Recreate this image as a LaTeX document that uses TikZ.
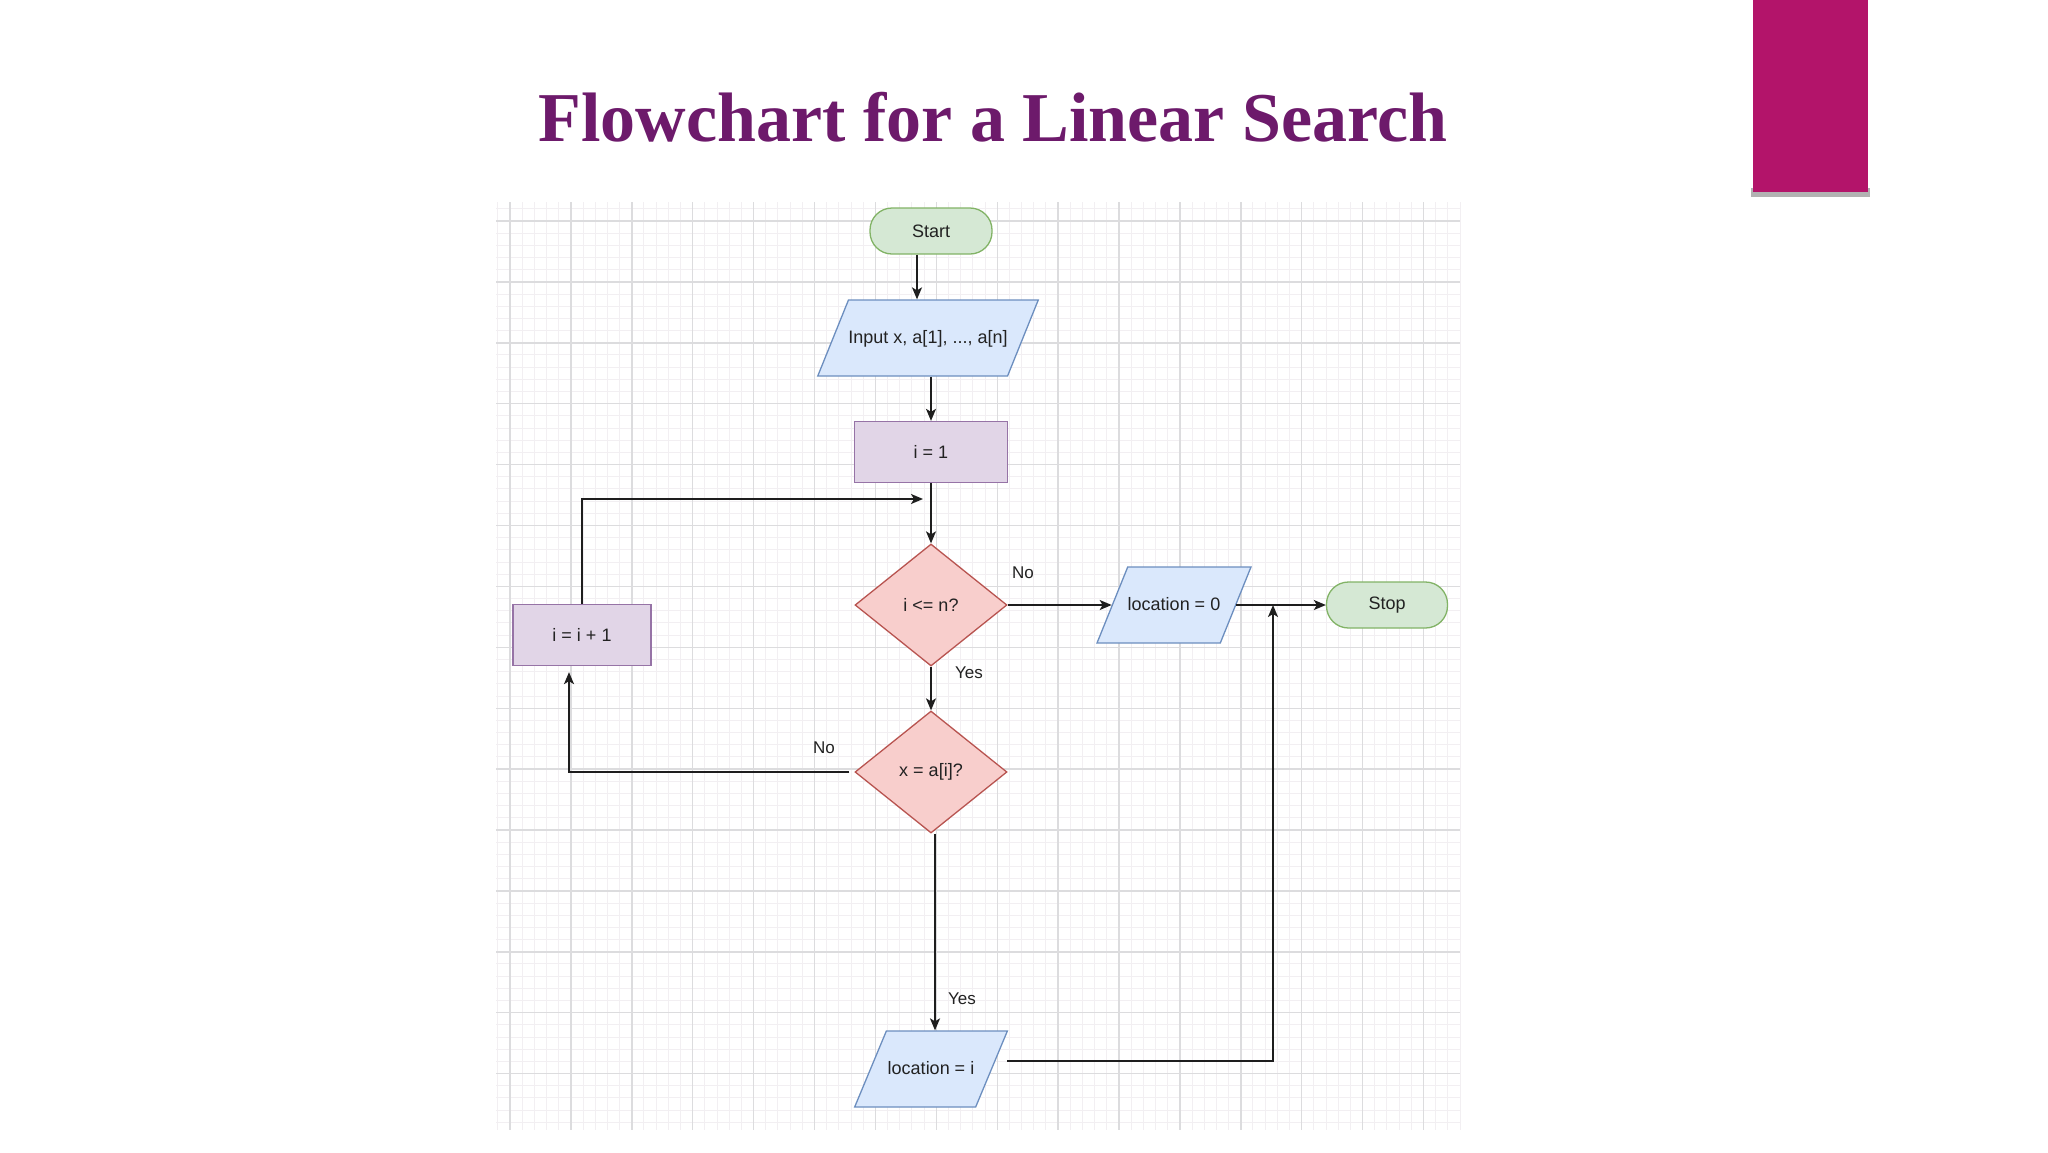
\documentclass[tikz,border=0pt]{standalone}
\usepackage{fontspec}
\setmainfont{Liberation Sans}
\newfontfamily\titlefont{Liberation Serif}
\usetikzlibrary{shapes.geometric,arrows.meta,scopes}
\definecolor{termfill}{HTML}{D5E8D4}
\definecolor{termline}{HTML}{82B366}
\definecolor{iofill}{HTML}{DAE8FC}
\definecolor{ioline}{HTML}{6C8EBF}
\definecolor{procfill}{HTML}{E1D5E7}
\definecolor{procline}{HTML}{9673A6}
\definecolor{decfill}{HTML}{F8CECC}
\definecolor{decline}{HTML}{B85450}
\definecolor{titlecol}{HTML}{6D1A6B}
\definecolor{barcol}{HTML}{B3146A}
\definecolor{linecol}{HTML}{1E1E1E}
\definecolor{textcol}{HTML}{222222}
\tikzset{
    every node/.style={font=\fontsize{18}{21}\selectfont, text=textcol, inner sep=0pt},
    terminal/.style={draw=termline, fill=termfill, line width=1.3pt, rounded corners=22pt,
        minimum width=122pt, minimum height=46pt},
    iobox/.style={trapezium, trapezium left angle=68, trapezium right angle=112,
        trapezium stretches=true, draw=ioline, fill=iofill, line width=1.3pt,
        text height=13pt, text depth=3pt, inner ysep=30pt},
    procbox/.style={rectangle, draw=procline, fill=procfill, line width=1.3pt,
        minimum width=153pt, minimum height=61pt},
    decision/.style={diamond, aspect=1.25, draw=decline, fill=decfill, line width=1.3pt,
        minimum width=152pt, minimum height=122pt},
    flow/.style={draw=linecol, line width=1.6pt, -{Stealth[length=12pt,width=10pt,inset=3pt]}},
    edgelabel/.style={font=\fontsize{17}{20}\selectfont},
    gridminor/.style={draw={rgb,255:red,242;green,239;blue,242}, line width=1pt},
    gridmajor/.style={draw={rgb,255:red,220;green,220;blue,222}, line width=1.4pt}
}

\begin{document}
\begin{tikzpicture}[x=1pt, y=-1pt]
    \useasboundingbox[fill=white] (0,0) rectangle (2048,1152);
    %bar
    \fill[black!30] (1751,188) rectangle (1870,197);
    \fill[barcol] (1753,0) rectangle (1868,192);
    %title
    \node[anchor=base, font=\titlefont\bfseries\fontsize{70}{80}\selectfont, text=titlecol]
        (title) at (993,141) {Flowchart for a Linear Search};
    %grid
    { [gridminor]
    \foreach \k in {-1,...,78} \draw ({510+\k*12.18},202) -- ({510+\k*12.18},1130);
    \foreach \k in {-1,...,74} \draw (496,{221+\k*12.18}) -- (1460,{221+\k*12.18});
    }
    { [gridmajor]
    \foreach \k in {0,...,15} \draw ({510+\k*60.9},202) -- ({510+\k*60.9},1130);
    \foreach \k in {0,...,14} \draw (496,{221+\k*60.9}) -- (1460,{221+\k*60.9});
    }
    %nodes
    \node[terminal] (start) at (931,231) {Start};
    \node[iobox, minimum width=220pt] (input) at (928,338) {Input x, a[1], ..., a[n]};
    \node[procbox] (init) at (931,452) {i = 1};
    \node[decision] (cond1) at (931,605) {i <= n?};
    \node[decision] (cond2) at (931,772) {x = a[i]?};
    \node[iobox, minimum width=153pt] (loc0) at (1174,605) {location = 0};
    \node[terminal, minimum width=121pt] (stop) at (1387,605) {Stop};
    \node[procbox, minimum width=138pt] (incr) at (582,635) {i = i + 1};
    \node[iobox, minimum width=153pt] (locI) at (931,1069) {location = i};
    \coordinate (merge) at (923,499);
    \coordinate (join) at (1273,605);
    %edges
    \draw[flow] ([xshift=-14pt]start.south) -- ([xshift=-14pt]start.south |- input.top side);
    \draw[flow] (input.bottom side -| init.north) -- (init.north);
    \draw[flow] (init.south) -- (cond1.north);
    \draw[flow] (incr.north) |- (merge);
    \draw[flow] (cond1.east) -- (loc0.left side);
    \draw[flow] (loc0.right side) -- (stop.west);
    \draw[flow] (cond1.south) -- (cond2.north);
    \draw[flow] ([xshift=-5pt]cond2.west) -| ([xshift=-13pt,yshift=-6pt]incr.south);
    \draw[flow] ([xshift=4pt]cond2.south) -- ([xshift=4pt]cond2.south |- locI.top side);
    \draw[flow] ([xshift=15pt,yshift=8pt]locI.right side) -| (join);
    %labels
    \node[edgelabel] (nolab1) at (1023,573) {No};
    \node[edgelabel] (yeslab1) at (969,673) {Yes};
    \node[edgelabel] (nolab2) at (824,748) {No};
    \node[edgelabel] (yeslab2) at (962,999) {Yes};
\end{tikzpicture}
\end{document}
